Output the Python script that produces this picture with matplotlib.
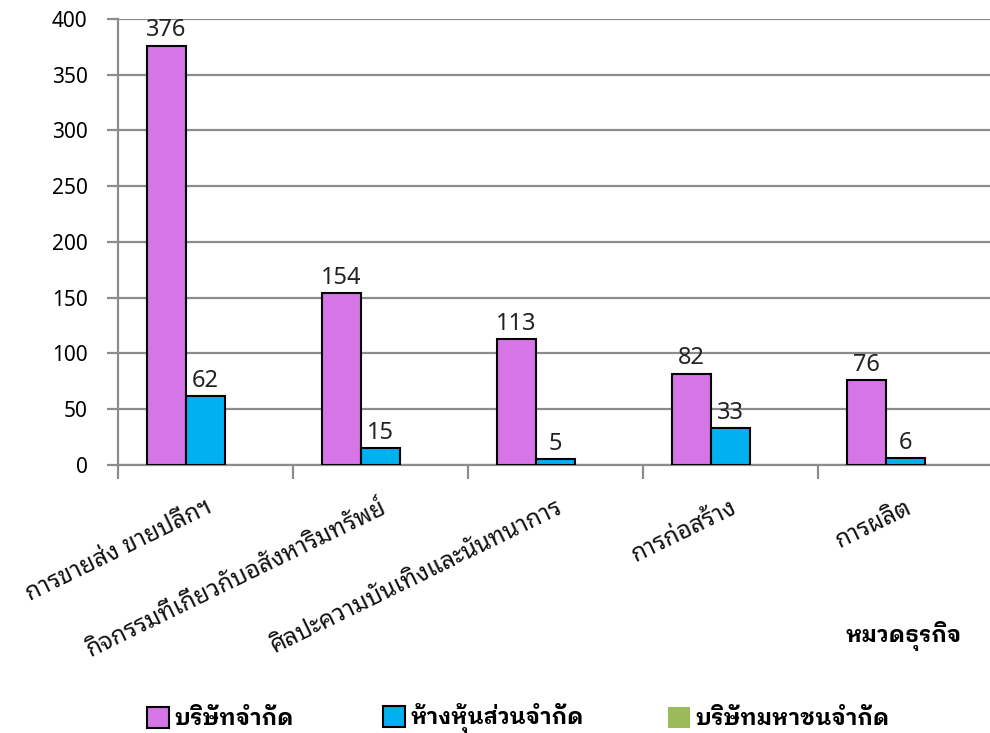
import matplotlib
matplotlib.use('Agg')
import matplotlib.pyplot as plt
import numpy as np
from matplotlib.patches import Patch

plt.rcParams['font.family'] = ['Noto Sans Thai Looped', 'Noto Sans', 'DejaVu Sans']
BOLD_FAM = ['IBM Plex Sans Thai Looped', 'Noto Sans Thai Looped', 'DejaVu Sans']
NUM_FAM = ['Noto Sans', 'DejaVu Sans']

categories = ['การขายส่ง ขายปลีกฯ', 'กิจกรรมที่เกี่ยวกับอสังหาริมทรัพย์',
              'ศิลปะความบันเทิงและนันทนาการ', 'การก่อสร้าง', 'การผลิต']
series_names = ['บริษัทจำกัด', 'ห้างหุ้นส่วนจำกัด', 'บริษัทมหาชนจำกัด']
company = [376, 154, 113, 82, 76]
partnership = [62, 15, 5, 33, 6]
public_co = [0, 0, 0, 0, 0]
yticks = [0, 50, 100, 150, 200, 250, 300, 350, 400]
x_title = 'หมวดธุรกิจ'

colors = ['#D575E6', '#00B0F0', '#9BBB59']
values = [company, partnership, public_co]

fig = plt.figure(figsize=(9.9, 7.33), dpi=100)
ax = fig.add_axes([118/990, 1-465/733, 875/990, (465-19)/733])

x = np.arange(len(categories))
w = 0.223
for i, (vals, c) in enumerate(zip(values, colors)):
    pos = x + (i - 1) * w
    if i < 2:
        ax.bar(pos, vals, w, color=c, edgecolor='black', linewidth=1.5, zorder=3)
        for p, v in zip(pos, vals):
            ax.text(p, v + 3, str(v), ha='center', va='bottom', fontsize=17,
                    color='#222222', family=NUM_FAM)

ax.set_xlim(-0.5, len(categories) - 0.5)
ax.set_ylim(0, 400)
ax.set_yticks(yticks)
ax.set_yticklabels([str(t) for t in yticks], fontsize=15, family=NUM_FAM)
ax.yaxis.grid(True, color='#8C8C8C', linewidth=1.6, zorder=0)
ax.tick_params(axis='y', length=8, width=1.6, color='#8C8C8C', pad=14)
ax.set_xticks(np.arange(len(categories) + 1) - 0.5, minor=False)
ax.set_xticklabels([])
ax.tick_params(axis='x', length=10, width=1.6, color='#8C8C8C', direction='out')
for s in ['top', 'right']:
    ax.spines[s].set_visible(False)
ax.spines['left'].set_color('#8C8C8C')
ax.spines['left'].set_linewidth(1.6)
ax.spines['bottom'].set_color('#8C8C8C')
ax.spines['bottom'].set_linewidth(1.6)

for xi, lab in zip(x, categories):
    ax.annotate(lab, xy=(xi, 0), xycoords=('data', 'axes fraction'),
                xytext=(0, -22), textcoords='offset points',
                ha='right', va='top', rotation=26, rotation_mode='anchor',
                fontsize=17.5, color='#111111')

fig.text(962/990, 1-636/733, x_title, ha='right', va='center', fontsize=16,
         fontweight='bold', family=BOLD_FAM)

handles = [Patch(facecolor=colors[0], edgecolor='black', linewidth=1.5),
           Patch(facecolor=colors[1], edgecolor='black', linewidth=1.5),
           Patch(facecolor=colors[2], edgecolor='none')]
leg_x = [147, 383, 668]
for h, name, lx in zip(handles, series_names, leg_x):
    fig.legend([h], [name], loc='center left', bbox_to_anchor=(lx/990, 1-718/733),
               frameon=False, prop={'size': 16, 'weight': 'bold', 'family': BOLD_FAM},
               borderpad=0, borderaxespad=0,
               handlelength=1.0, handleheight=1.1, handletextpad=0.25)

fig.savefig('out.png', dpi=100)
